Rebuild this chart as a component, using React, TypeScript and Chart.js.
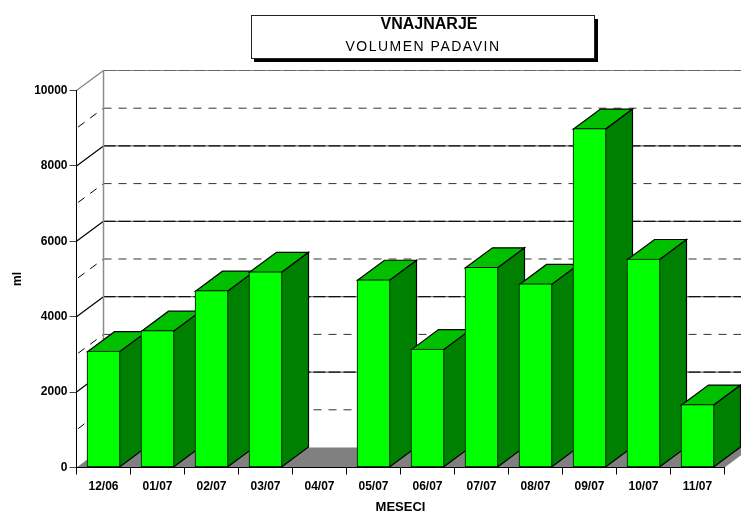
import React, { useEffect, useRef } from "react";
import { Chart, registerables } from "chart.js";

Chart.register(...registerables);

const categories = ["12/06", "01/07", "02/07", "03/07", "04/07", "05/07", "06/07", "07/07", "08/07", "09/07", "10/07", "11/07"];
const volumes: (number | null)[] = [3085, 3630, 4690, 5190, null, 4980, 3140, 5310, 4870, 8990, 5530, 1670];
const minorGridValues = [1000, 3000, 5000, 7000, 9000];
const majorGridValues = [2000, 4000, 6000, 8000, 10000];
const chartTitle = "VNAJNARJE";
const chartSubtitle = "VOLUMEN PADAVIN";
const xAxisTitle = "MESECI";
const yAxisTitle = "ml";

const DX = 27;
const DY = -20;
const GREEN_FRONT = "#00FF00";
const GREEN_TOP = "#00C000";
const GREEN_SIDE = "#008000";
const GREY = "#808080";
const FONT = '"Liberation Sans", Arial, sans-serif';

const poly = (ctx: CanvasRenderingContext2D, pts: number[][], fill?: string, stroke?: string) => {
  ctx.beginPath();
  pts.forEach((p, i) => (i ? ctx.lineTo(p[0], p[1]) : ctx.moveTo(p[0], p[1])));
  ctx.closePath();
  if (fill) {
    ctx.fillStyle = fill;
    ctx.fill();
  }
  if (stroke) {
    ctx.strokeStyle = stroke;
    ctx.lineWidth = 1.2;
    ctx.stroke();
  }
};

const line = (ctx: CanvasRenderingContext2D, x1: number, y1: number, x2: number, y2: number, color: string, dash: number[] = [], width = 1, offset = 0) => {
  ctx.beginPath();
  ctx.setLineDash(dash);
  ctx.lineDashOffset = offset;
  ctx.strokeStyle = color;
  ctx.lineWidth = width;
  ctx.moveTo(x1, y1);
  ctx.lineTo(x2, y2);
  ctx.stroke();
  ctx.setLineDash([]);
};

const wallsPlugin = {
  id: "walls",
  beforeDraw(chart: any) {
    const { ctx, chartArea: a, scales } = chart;
    const y = scales.y;
    ctx.save();
    ctx.fillStyle = "#FFFFFF";
    ctx.fillRect(0, 0, chart.width, chart.height);

    // title box with drop shadow
    ctx.fillStyle = "#000000";
    ctx.fillRect(254, 19, 344, 43);
    ctx.fillStyle = "#FFFFFF";
    ctx.fillRect(251, 15, 344, 44);
    ctx.strokeStyle = "#222222";
    ctx.lineWidth = 1;
    ctx.strokeRect(251.5, 15.5, 343, 43);
    ctx.fillStyle = "#000000";
    ctx.textAlign = "center";
    ctx.textBaseline = "alphabetic";
    ctx.font = `bold 16px ${FONT}`;
    ctx.fillText(chartTitle, 429, 29);
    ctx.font = `14px ${FONT}`;
    (ctx as any).letterSpacing = "1.5px";
    ctx.fillText(chartSubtitle, 423, 51);
    (ctx as any).letterSpacing = "0px";

    const backLeft = a.left + DX;
    const backRight = a.right + DX;
    // floor
    poly(ctx, [[a.left, a.bottom], [a.right, a.bottom], [backRight, a.bottom + DY], [backLeft, a.bottom + DY]], GREY);

    // minor grid
    minorGridValues.forEach((v) => {
      const p = y.getPixelForValue(v);
      line(ctx, a.left, p, backLeft, p + DY, "#000000", [8, 7], 1, -2);
      line(ctx, backLeft, p + DY, backRight, p + DY, "#333333", [8, 7]);
    });
    // major grid
    majorGridValues.forEach((v) => {
      const p = y.getPixelForValue(v);
      const top = v === 10000;
      line(ctx, a.left, p, backLeft, p + DY, top ? GREY : "#000000", [], 1.2);
      line(ctx, backLeft, p + DY, backRight, p + DY, top ? "#8a8a8a" : "#707070", [], 1.2);
      line(ctx, backLeft, p + DY, backRight, p + DY, top ? "#666666" : "#111111", [12, 3], 1.2);
    });
    // back corner
    line(ctx, backLeft, a.top + DY, backLeft, a.bottom + DY, "#8C8C8C", [], 1.5);
    ctx.restore();
  },
  beforeDatasetsDraw(chart: any) {
    const { ctx } = chart;
    const meta = chart.getDatasetMeta(0);
    ctx.save();
    meta.data.forEach((bar: any, i: number) => {
      if (volumes[i] == null) return;
      const { x, y, base, width } = bar.getProps(["x", "y", "base", "width"], true);
      const l = x - width / 2 + 0.5;
      const r = x + width / 2 - 0.5;
      const t = y + 0.5;
      poly(ctx, [[r, t], [r + DX, t + DY], [r + DX, base + DY], [r, base]], GREEN_SIDE, "#000000");
      poly(ctx, [[l, t], [l + DX, t + DY], [r + DX, t + DY], [r, t]], GREEN_TOP, "#000000");
    });
    ctx.restore();
  },
};

export default function App() {
  const ref = useRef<HTMLCanvasElement>(null);
  useEffect(() => {
    const chart = new Chart(ref.current as HTMLCanvasElement, {
      type: "bar",
      data: {
        labels: categories,
        datasets: [
          {
            label: chartSubtitle,
            data: volumes,
            backgroundColor: GREEN_FRONT,
            borderColor: "#000000",
            borderWidth: 1,
            borderSkipped: false,
            barThickness: 33,
          },
        ],
      },
      options: {
        responsive: false,
        animation: false,
        devicePixelRatio: 1,
        layout: { autoPadding: false, padding: { left: 0, top: 90.5, right: 16.5, bottom: -2 } },
        plugins: { legend: { display: false }, tooltip: { enabled: false }, title: { display: false } },
        font: { family: FONT },
        scales: {
          x: {
            afterFit: (s: any) => {
              s.height = 46.5;
            },
            grid: { drawOnChartArea: false, tickLength: 7, tickColor: "#000000", lineWidth: 1 },
            border: { color: "#000000", width: 1 },
            ticks: { color: "#000000", padding: 5, maxRotation: 0, autoSkip: false, font: { family: FONT, size: 12, weight: "bold" } },
            title: { display: true, text: xAxisTitle, color: "#000000", padding: 0, font: { family: FONT, size: 13, weight: "bold", lineHeight: 1 } },
          },
          y: {
            min: 0,
            max: 10000,
            afterFit: (s: any) => {
              s.width = 76.5;
            },
            grid: { drawOnChartArea: false, tickLength: 7, tickColor: "#444444", lineWidth: 1 },
            border: { color: "#000000", width: 1 },
            ticks: { stepSize: 2000, color: "#000000", padding: 2, font: { family: FONT, size: 12, weight: "bold" }, callback: (v: any) => String(v) },
            title: { display: true, text: yAxisTitle, color: "#000000", padding: { top: 10, bottom: 0 }, font: { family: FONT, size: 12, weight: "bold" } },
          },
        },
      } as any,
      plugins: [wallsPlugin as any],
    });
    return () => chart.destroy();
  }, []);
  return <canvas ref={ref} width={741} height={512} style={{ position: "fixed", left: 0, top: 0, display: "block" }} />;
}
